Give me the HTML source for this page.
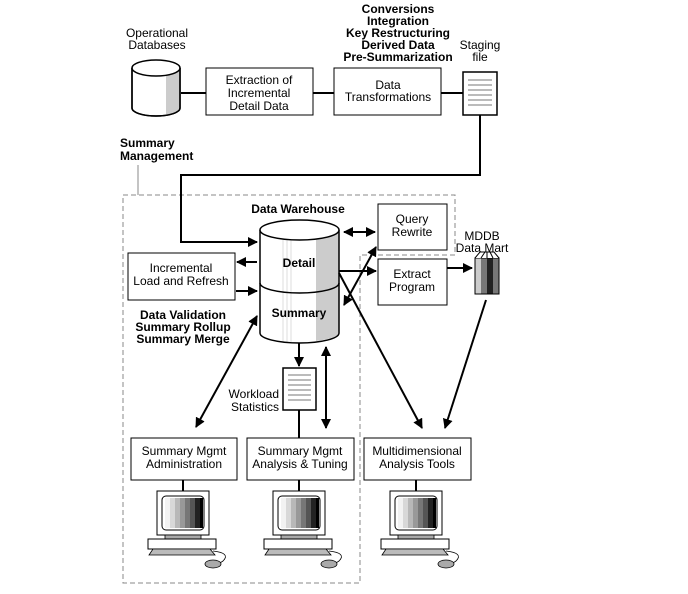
<!DOCTYPE html>
<html><head><meta charset="utf-8"><style>
html,body{margin:0;padding:0;background:#fff;width:688px;height:594px;overflow:hidden}
text{font-family:"Liberation Sans",sans-serif;font-size:12px;fill:#000}
.b{font-weight:bold}
</style></head><body>
<svg width="688" height="594" viewBox="0 0 688 594" xmlns="http://www.w3.org/2000/svg">
<defs>
<marker id="a" viewBox="0 0 10 10" refX="9" refY="5" markerWidth="5" markerHeight="5" orient="auto-start-reverse"><path d="M0,0L10,5L0,10z" fill="#000"/></marker>
<g id="pc">
<rect x="0" y="0" width="52" height="44" fill="#fff" stroke="#000"/>
<rect x="5" y="5" width="42" height="34" rx="4" fill="#fff" stroke="#000"/>
<rect x="8" y="7" width="5" height="30" fill="#f2f2f2"/><rect x="13" y="7" width="5" height="30" fill="#d8d8d8"/><rect x="18" y="7" width="5" height="30" fill="#b8b8b8"/><rect x="23" y="7" width="5" height="30" fill="#999"/><rect x="28" y="7" width="5" height="30" fill="#777"/><rect x="33" y="7" width="5" height="30" fill="#555"/><rect x="38" y="7" width="5" height="30" fill="#222"/><rect x="43" y="7" width="3" height="30" fill="#000"/>
<rect x="8" y="44" width="36" height="4" fill="#aaa" stroke="#000" stroke-width="0.8"/>
<rect x="-9" y="48" width="68" height="10" fill="#fff" stroke="#000"/>
<path d="M-4,58 L53,58 L58,64 L-8,64 z" fill="#bbb" stroke="#000" stroke-width="0.8"/>
<path d="M56,60 q18,2 10,10 q-4,3 -8,2" fill="none" stroke="#000" stroke-width="0.8"/>
<ellipse cx="56" cy="73" rx="8" ry="4" fill="#aaa" stroke="#000" stroke-width="0.8"/>
</g>
</defs>
<path d="M123,195 H455 V255 H360 V583 H123 Z" fill="none" stroke="#888" stroke-dasharray="5,3"/>
<line x1="138" y1="165" x2="138" y2="195" stroke="#888"/>
<text class="b" x="120" y="147">Summary</text>
<text class="b" x="120" y="160">Management</text>
<text class="b" x="398" y="13" text-anchor="middle">Conversions</text>
<text class="b" x="398" y="25" text-anchor="middle">Integration</text>
<text class="b" x="398" y="37" text-anchor="middle">Key Restructuring</text>
<text class="b" x="398" y="49" text-anchor="middle">Derived Data</text>
<text class="b" x="398" y="61" text-anchor="middle">Pre-Summarization</text>
<text x="157" y="37" text-anchor="middle">Operational</text>
<text x="157" y="49" text-anchor="middle">Databases</text>
<path d="M132,68 V108 A24,8 0 0 0 180,108 V68" fill="#fff" stroke="#000" stroke-width="1.5"/>
<path d="M166,66 V115 A24,8 0 0 0 179,110 V68 z" fill="#ccc"/>
<path d="M132,68 V108 A24,8 0 0 0 180,108 V68" fill="none" stroke="#000" stroke-width="1.5"/>
<ellipse cx="156" cy="68" rx="24" ry="8" fill="#fff" stroke="#000" stroke-width="1.5"/>
<line x1="181" y1="93" x2="206" y2="93" stroke="#000" stroke-width="2"/>
<rect x="206" y="68" width="107" height="47" fill="#fff" stroke="#000"/>
<text x="259" y="84" text-anchor="middle">Extraction of</text>
<text x="259" y="97" text-anchor="middle">Incremental</text>
<text x="259" y="110" text-anchor="middle">Detail Data</text>
<line x1="313" y1="93" x2="334" y2="93" stroke="#000" stroke-width="2"/>
<rect x="334" y="68" width="107" height="47" fill="#fff" stroke="#000"/>
<text x="388" y="89" text-anchor="middle">Data</text>
<text x="388" y="101" text-anchor="middle">Transformations</text>
<line x1="441" y1="93" x2="463" y2="93" stroke="#000" stroke-width="2"/>
<text x="480" y="49" text-anchor="middle">Staging</text>
<text x="480" y="61" text-anchor="middle">file</text>
<rect x="463" y="72" width="34" height="43" fill="#fff" stroke="#000" stroke-width="1.5"/>
<g stroke="#777"><line x1="468" y1="80" x2="492" y2="80"/><line x1="468" y1="85" x2="492" y2="85"/><line x1="468" y1="90" x2="492" y2="90"/><line x1="468" y1="95" x2="492" y2="95"/><line x1="468" y1="100" x2="492" y2="100"/><line x1="468" y1="105" x2="492" y2="105"/></g>
<path d="M480,115 V175 H181 V242 H257" fill="none" stroke="#000" stroke-width="2" marker-end="url(#a)"/>
<text class="b" x="298" y="213" text-anchor="middle">Data Warehouse</text>
<path d="M260,230 V333 A39.5,10 0 0 0 339,333 V230" fill="#fff"/>
<path d="M316,230 V341 A39.5,10 0 0 0 339,333 V230 z" fill="#ccc"/>
<g stroke="#ddd"><line x1="283" y1="240" x2="283" y2="342"/><line x1="287" y1="240" x2="287" y2="342"/><line x1="291" y1="240" x2="291" y2="342"/></g>
<path d="M260,230 V333 A39.5,10 0 0 0 339,333 V230" fill="none" stroke="#000" stroke-width="1.5"/>
<path d="M260,283 A39.5,10 0 0 0 339,283" fill="none" stroke="#000" stroke-width="1.5"/>
<ellipse cx="299.5" cy="230" rx="39.5" ry="10" fill="#fff" stroke="#000" stroke-width="1.5"/>
<text class="b" x="299" y="267" text-anchor="middle">Detail</text>
<text class="b" x="299" y="317" text-anchor="middle">Summary</text>
<rect x="378" y="204" width="69" height="46" fill="#fff" stroke="#000"/>
<text x="412" y="223" text-anchor="middle">Query</text>
<text x="412" y="236" text-anchor="middle">Rewrite</text>
<line x1="344" y1="232" x2="375" y2="232" stroke="#000" stroke-width="2" marker-start="url(#a)" marker-end="url(#a)"/>
<line x1="376" y1="247" x2="344" y2="305" stroke="#000" stroke-width="2" marker-start="url(#a)" marker-end="url(#a)"/>
<rect x="378" y="259" width="69" height="46" fill="#fff" stroke="#000"/>
<text x="412" y="278" text-anchor="middle">Extract</text>
<text x="412" y="291" text-anchor="middle">Program</text>
<line x1="339" y1="271" x2="376" y2="271" stroke="#000" stroke-width="2" marker-end="url(#a)"/>
<line x1="447" y1="268" x2="472" y2="268" stroke="#000" stroke-width="2" marker-end="url(#a)"/>
<text x="482" y="240" text-anchor="middle">MDDB</text>
<text x="482" y="252" text-anchor="middle">Data Mart</text>
<rect x="475" y="258" width="6" height="36" fill="#ccc"/><rect x="481" y="258" width="6" height="36" fill="#777"/><rect x="487" y="258" width="6" height="36" fill="#222"/><rect x="493" y="258" width="6" height="36" fill="#777"/>
<rect x="475" y="258" width="24" height="36" fill="none" stroke="#000"/>
<path d="M475,258 L480,252 H494 L499,258" fill="#fff" stroke="#000"/>
<g stroke="#000"><line x1="481" y1="258" x2="485" y2="252"/><line x1="487" y1="258" x2="487" y2="252"/><line x1="493" y1="258" x2="490" y2="252"/></g>
<rect x="128" y="253" width="107" height="47" fill="#fff" stroke="#000"/>
<text x="181" y="272" text-anchor="middle">Incremental</text>
<text x="181" y="285" text-anchor="middle">Load and Refresh</text>
<line x1="257" y1="262" x2="237" y2="262" stroke="#000" stroke-width="2" marker-end="url(#a)"/>
<line x1="236" y1="291" x2="257" y2="291" stroke="#000" stroke-width="2" marker-end="url(#a)"/>
<text class="b" x="183" y="319" text-anchor="middle">Data Validation</text>
<text class="b" x="183" y="331" text-anchor="middle">Summary Rollup</text>
<text class="b" x="183" y="343" text-anchor="middle">Summary Merge</text>
<line x1="257" y1="316" x2="196" y2="427" stroke="#000" stroke-width="2" marker-start="url(#a)" marker-end="url(#a)"/>
<line x1="339" y1="273" x2="422" y2="428" stroke="#000" stroke-width="2" marker-end="url(#a)"/>
<line x1="486" y1="300" x2="445" y2="428" stroke="#000" stroke-width="2" marker-end="url(#a)"/>
<line x1="299" y1="343" x2="299" y2="366" stroke="#000" stroke-width="2" marker-end="url(#a)"/>
<rect x="283" y="368" width="33" height="42" fill="#fff" stroke="#000" stroke-width="1.5"/>
<g stroke="#777"><line x1="288" y1="375" x2="311" y2="375"/><line x1="288" y1="380" x2="311" y2="380"/><line x1="288" y1="385" x2="311" y2="385"/><line x1="288" y1="390" x2="311" y2="390"/><line x1="288" y1="395" x2="311" y2="395"/><line x1="288" y1="400" x2="311" y2="400"/></g>
<text x="279" y="398" text-anchor="end">Workload</text>
<text x="279" y="411" text-anchor="end">Statistics</text>
<line x1="299" y1="410" x2="299" y2="438" stroke="#000" stroke-width="2"/>
<line x1="326" y1="347" x2="326" y2="428" stroke="#000" stroke-width="2" marker-start="url(#a)" marker-end="url(#a)"/>
<rect x="131" y="438" width="106" height="42" fill="#fff" stroke="#000"/>
<text x="184" y="455" text-anchor="middle">Summary Mgmt</text>
<text x="184" y="468" text-anchor="middle">Administration</text>
<rect x="247" y="438" width="107" height="42" fill="#fff" stroke="#000"/>
<text x="300" y="455" text-anchor="middle">Summary Mgmt</text>
<text x="300" y="468" text-anchor="middle">Analysis &amp; Tuning</text>
<rect x="364" y="438" width="107" height="42" fill="#fff" stroke="#000"/>
<text x="417" y="455" text-anchor="middle">Multidimensional</text>
<text x="417" y="468" text-anchor="middle">Analysis Tools</text>
<g stroke="#000" stroke-width="2"><line x1="183" y1="480" x2="183" y2="491"/><line x1="299" y1="480" x2="299" y2="491"/><line x1="416" y1="480" x2="416" y2="491"/></g>
<use href="#pc" x="157" y="491"/>
<use href="#pc" x="273" y="491"/>
<use href="#pc" x="390" y="491"/>
</svg>
</body></html>
